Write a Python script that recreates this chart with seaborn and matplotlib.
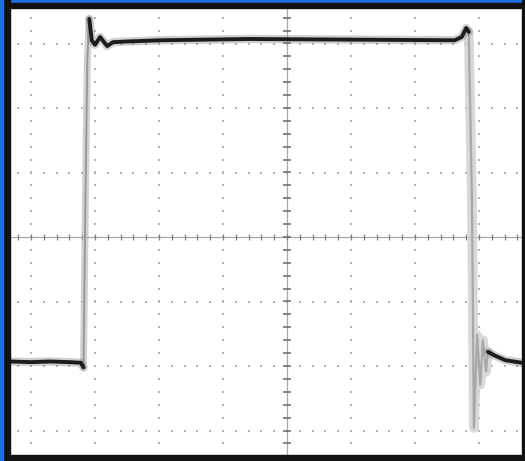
import numpy as np
import pandas as pd
import matplotlib
matplotlib.use("Agg")
import matplotlib.pyplot as plt
from matplotlib.patches import Rectangle
import seaborn as sns

# ---- waveform key points (time and voltage in screen divisions) ----
low_t = [-4.33, -4.0, -3.7, -3.4, -3.22, -3.18]
low_v = [-1.93, -1.94, -1.93, -1.94, -1.95, -2.02]

rise_t = [-3.18, -3.15, -3.12, -3.09]
rise_v = [-2.02, 0.57, 2.74, 3.38]

top_t = [-3.09, -3.05, -3.00, -2.92, -2.81, -2.72, -2.53, -1.98, -0.58, 0.98, 2.62, 2.73, 2.80, 2.84]
top_v = [3.38, 3.05, 2.98, 3.10, 2.96, 3.02, 3.03, 3.05, 3.07, 3.06, 3.05, 3.10, 3.24, 3.18]

fall_t = [2.84, 2.89, 2.92, 2.97, 3.02, 3.06, 3.11, 3.14]
fall_v = [3.18, 0.57, -2.96, -1.52, -2.29, -1.60, -2.09, -1.78]

tail_t = [3.14, 3.25, 3.41, 3.67]
tail_v = [-1.78, -1.84, -1.91, -1.95]

# graticule
x_major = [-4, -3, -2, -1, 1, 2, 3]
y_major = [-3, -2, -1, 1, 2, 3]
minor_step = 0.2

W, H = 525, 461
fig = plt.figure(figsize=(W / 100, H / 100), dpi=100)
sns.set_theme(style="white")
ax = fig.add_axes([0, 0, 1, 1])
ax.set_facecolor("white")
xl = (-287 / 64, (W - 287) / 64)
yl = ((237 - H) / 64.5, 237 / 64.5)

# graticule dots
ys = np.arange(-3.4, 3.61, minor_step)
xs = np.arange(-4.4, 3.61, minor_step)
gx, gy = [], []
for xm in x_major:
    gx += [xm] * len(ys)
    gy += list(ys)
for ym in y_major:
    gx += list(xs)
    gy += [ym] * len(xs)
ax.scatter(gx, gy, s=2.0, marker="s", color="#b4b4b4", linewidths=0, zorder=1)

# center cross with ticks
ax.axvline(0, color="#a8a8a8", lw=0.9, zorder=1)
ax.axhline(0, color="#a8a8a8", lw=0.9, zorder=1)
ax.scatter([0] * len(ys), ys, marker="_", s=30, color="#666666", linewidths=1.1, zorder=2)
ax.scatter(xs, [0] * len(xs), marker="|", s=14, color="#808080", linewidths=0.9, zorder=2)

def trace(t, v, color, lw, alpha=1.0, z=3):
    df = pd.DataFrame({"t": t, "v": v})
    sns.lineplot(data=df, x="t", y="v", sort=False, estimator=None, ax=ax,
                 color=color, lw=lw, alpha=alpha, zorder=z, legend=False)

# fast edges (faint)
trace(rise_t, rise_v, "#b5b5b5", 5, 0.6, 3)
trace(rise_t, rise_v, "#999999", 1.4, 1.0, 3)
trace(fall_t, fall_v, "#cfcfcf", 7, 0.8, 3)
trace(fall_t, fall_v, "#a8a8a8", 1.6, 1.0, 3)
# slow parts (dark, blurred)
for t, v in [(low_t, low_v), (top_t, top_v), (tail_t, tail_v)]:
    trace(t, v, "#777777", 6, 0.35, 4)
    trace(t, v, "#1c1c1c", 2.8, 1.0, 5)

ax.set_xlim(*xl)
ax.set_ylim(*yl)
ax.set_axis_off()

# screen frame
tf = fig.transFigure
def frame(x0, y0, w, h, c):
    fig.patches.append(Rectangle((x0 / W, 1 - (y0 + h) / H), w / W, h / H,
                                 transform=tf, color=c, zorder=10))
frame(0, 0, W, 3, "#1f6fe0")
frame(0, 3, W, 5, "#111111")
frame(0, 455, W, 6, "#111111")
frame(522, 0, 3, H, "#111111")
frame(3, 0, 7, H, "#111111")
frame(0, 0, 3, H, "#1f6fe0")

fig.savefig("out.png", dpi=100)
